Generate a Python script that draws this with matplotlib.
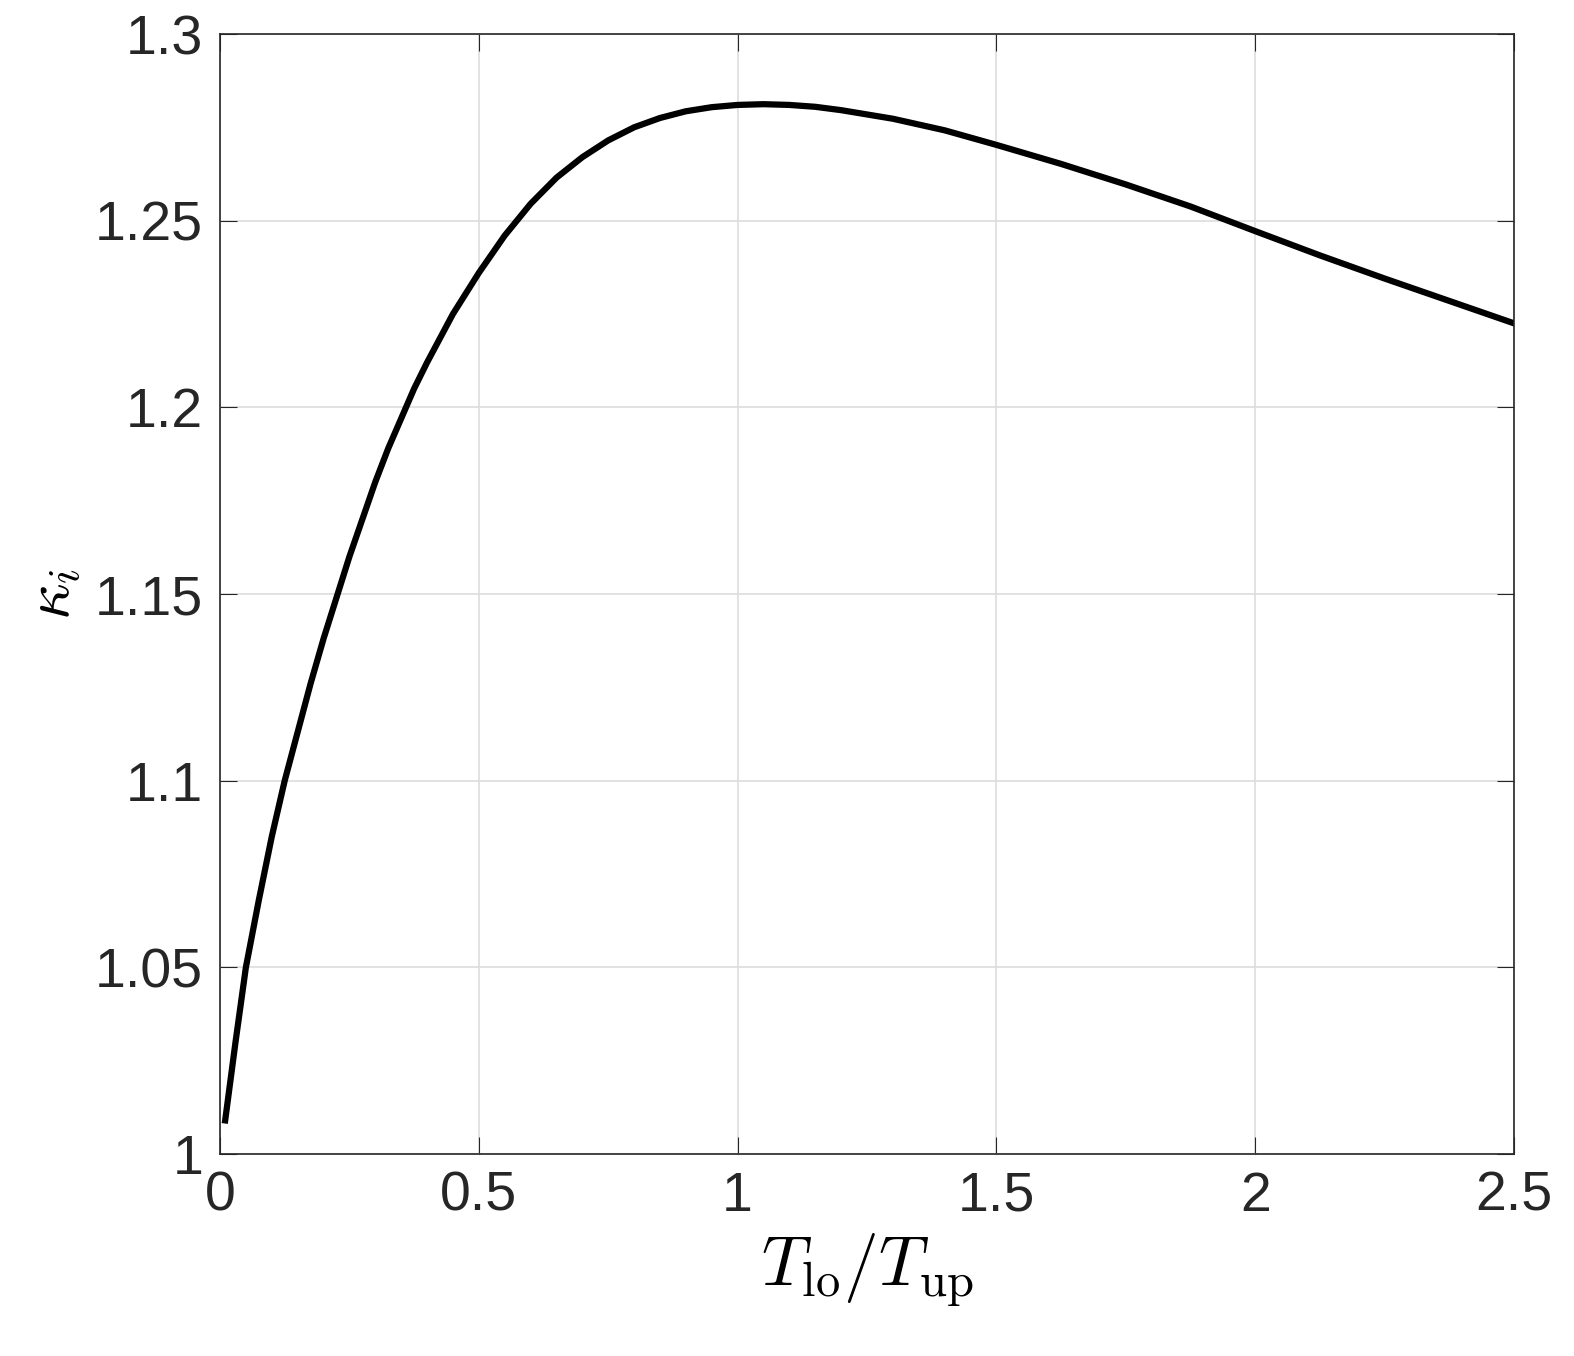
import matplotlib
matplotlib.use("Agg")
import matplotlib.pyplot as plt
import numpy as np

ratio = [0.01, 0.03, 0.05, 0.075, 0.1, 0.125, 0.15, 0.175, 0.2, 0.225, 0.25, 0.275,
         0.3, 0.325, 0.35, 0.375, 0.4, 0.45, 0.5, 0.55, 0.6, 0.65, 0.7, 0.75, 0.8,
         0.85, 0.9, 0.95, 1.0, 1.05, 1.1, 1.15, 1.2, 1.3, 1.4, 1.5, 1.625, 1.75,
         1.875, 2.0, 2.125, 2.25, 2.375, 2.5]
kappa = [1.009, 1.030, 1.050, 1.068, 1.085, 1.100, 1.113, 1.126, 1.138, 1.149,
         1.160, 1.170, 1.180, 1.189, 1.197, 1.205, 1.212, 1.225, 1.236, 1.246,
         1.2545, 1.2615, 1.267, 1.2715, 1.275, 1.2775, 1.2793, 1.2804, 1.2810,
         1.2812, 1.2810, 1.2805, 1.2796, 1.2773, 1.2742, 1.2703, 1.2652, 1.2597,
         1.2538, 1.2472, 1.2407, 1.2345, 1.2285, 1.2225]

plt.rcParams["font.family"] = ["Liberation Sans", "DejaVu Sans"]
plt.rcParams["mathtext.fontset"] = "cm"

fig = plt.figure(figsize=(15.74, 13.56), dpi=100)
ax = fig.add_axes([220 / 1574, 1 - 1154 / 1356, 1294 / 1574, 1120 / 1356])
ax.plot(ratio, kappa, color="black", linewidth=4.5, solid_joinstyle="round")
ax.set_xlim(0, 2.5)
ax.set_ylim(1, 1.3)
ax.set_xticks(np.arange(0, 2.51, 0.5))
ax.set_xticklabels(["0", "0.5", "1", "1.5", "2", "2.5"])
ax.set_yticks(np.arange(1, 1.301, 0.05))
ax.set_yticklabels(["1", "1.05", "1.1", "1.15", "1.2", "1.25", "1.3"])
ax.grid(True, color="#dddddd", linewidth=1.2)
ax.tick_params(labelsize=40, direction="in", length=12, top=True, right=True,
               colors="#262626", pad=12)
for s in ax.spines.values():
    s.set_linewidth(1.2)
    s.set_color("#262626")
ax.set_xlabel(r"$T_{\rm lo}/T_{\rm up}$", fontsize=50, labelpad=6)
ax.set_ylabel(r"$\kappa_i$", fontsize=46, labelpad=8)
fig.savefig("out.png", dpi=100)
